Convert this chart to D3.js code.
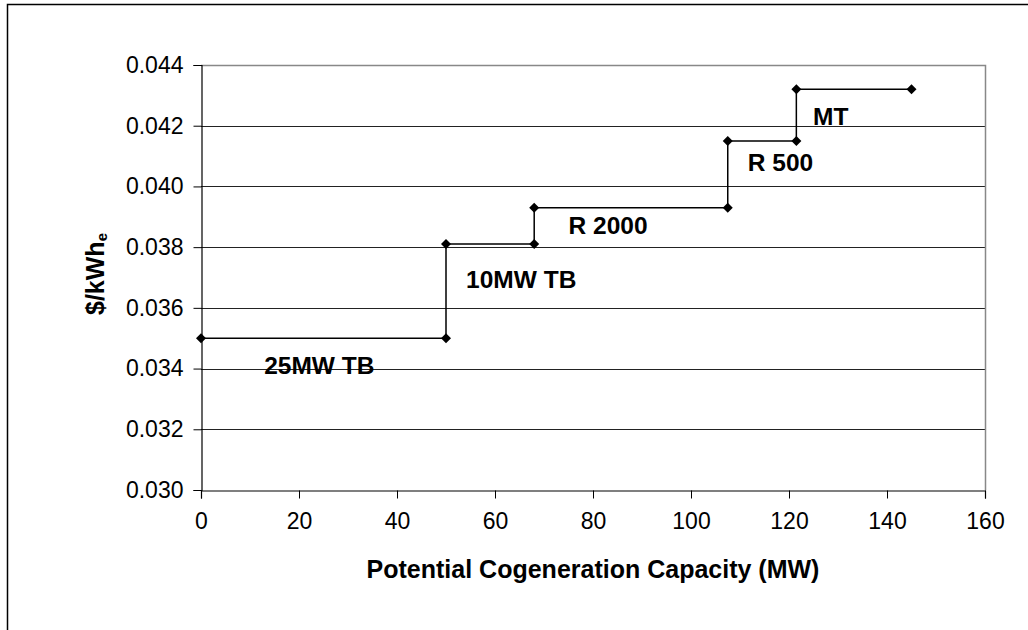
<!DOCTYPE html>
<html><head><meta charset="utf-8">
<script src="https://cdn.jsdelivr.net/npm/d3@7"></script>
<style>body{margin:0;background:#fff}svg{display:block}text{font-family:"Liberation Sans",Arial,sans-serif}</style>
</head><body>
<svg id="c" width="1028" height="630"></svg>
<script>
const capacityMW = [0, 50, 50, 68, 68, 107.5, 107.5, 121.5, 121.5, 145];
const costPerKWh = [0.035, 0.035, 0.0381, 0.0381, 0.0393, 0.0393, 0.0415, 0.0415, 0.0432, 0.0432];
const labelText = ["25MW TB", "10MW TB", "R 2000", "R 500", "MT"];
const labelX = [12.9, 54.1, 75.0, 111.6, 124.9];
const labelY = [0.03382, 0.03666, 0.03842, 0.04052, 0.04203];
const xTicks = [0, 20, 40, 60, 80, 100, 120, 140, 160];
const yTicks = [0.030, 0.032, 0.034, 0.036, 0.038, 0.040, 0.042, 0.044];

const svg = d3.select("#c");
const L = 201, R = 985, T = 65, B = 490;
const x = d3.scaleLinear().domain([0, 160]).range([L, R]);
const y = d3.scaleLinear().domain([0.030, 0.044]).range([B, T]);

// outer chart border
svg.append("rect").attr("x", 7.5).attr("y", 4.5).attr("width", 1100).attr("height", 700)
  .attr("fill", "none").attr("stroke", "#000").attr("stroke-width", 1.5);

// gridlines
svg.append("g").selectAll("line").data(yTicks.slice(1)).join("line")
  .attr("x1", L).attr("x2", R).attr("y1", d => Math.round(y(d)) + 0.5).attr("y2", d => Math.round(y(d)) + 0.5)
  .attr("stroke", "#222").attr("stroke-width", 1);

// plot border top/right
svg.append("path").attr("d", `M${L},${T + 0.5}H${R + 0.5}V${B}`).attr("fill", "none").attr("stroke", "#888").attr("stroke-width", 1.5);

// axes
const xAxis = svg.append("g").attr("transform", `translate(0,${B + 0.5})`)
  .call(d3.axisBottom(x).tickValues(xTicks).tickSize(8).tickPadding(14).tickFormat(d3.format("d")));
const yAxis = svg.append("g").attr("transform", `translate(${L + 0.5},0)`)
  .call(d3.axisLeft(y).tickValues(yTicks).tickSize(8).tickPadding(10).tickFormat(d3.format(".3f")));
[xAxis, yAxis].forEach(g => {
  g.select(".domain").attr("stroke", "#000").attr("stroke-width", 1.2);
  g.selectAll(".tick line").attr("stroke", "#000");
  g.selectAll(".tick text").attr("font-size", 23).attr("fill", "#000").attr("font-family", '"Liberation Sans",Arial,sans-serif');
});
xAxis.selectAll(".tick text").attr("dy", "0.71em");

// step line
const pts = capacityMW.map((v, i) => [v, costPerKWh[i]]);
svg.append("path").datum(pts)
  .attr("d", d3.line().x(d => x(d[0])).y(d => y(d[1])))
  .attr("fill", "none").attr("stroke", "#000").attr("stroke-width", 1.5);

svg.append("g").selectAll("path").data(pts).join("path")
  .attr("d", d3.symbol().type(d3.symbolSquare).size(50))
  .attr("transform", d => `translate(${x(d[0])},${y(d[1])}) rotate(45)`)
  .attr("fill", "#000");

// annotations
svg.append("g").selectAll("text").data(labelText).join("text")
  .attr("x", (d, i) => x(labelX[i])).attr("y", (d, i) => y(labelY[i]))
  .attr("font-size", 24.5).attr("font-weight", "bold").attr("fill", "#000")
  .text(d => d);

// axis titles
svg.append("text").attr("x", (L + R) / 2).attr("y", 578).attr("text-anchor", "middle")
  .attr("font-size", 25).attr("font-weight", "bold").text("Potential Cogeneration Capacity (MW)");

const yt = svg.append("text").attr("transform", "translate(104,274) rotate(-90)").attr("text-anchor", "middle")
  .attr("font-size", 25).attr("font-weight", "bold");
yt.append("tspan").text("$/kWh");
yt.append("tspan").attr("font-size", 15).attr("dy", 3).text("e");
</script>
</body></html>
